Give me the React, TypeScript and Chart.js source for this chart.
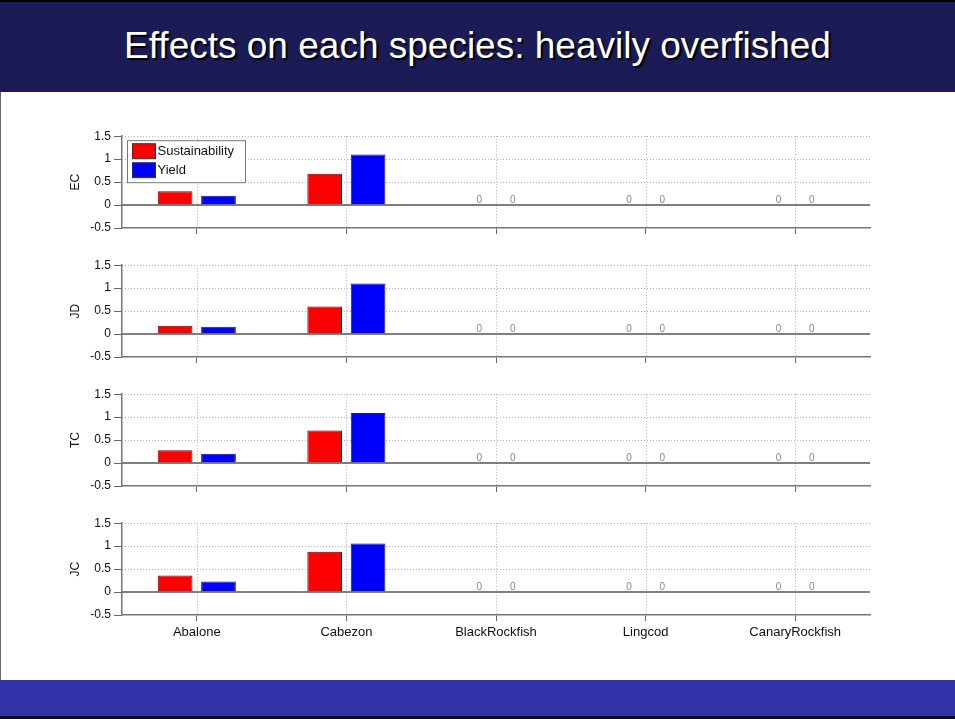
import React, { useEffect, useRef } from "react";
import { Chart, registerables } from "chart.js";

Chart.register(...registerables);

// ---------- data ----------
const TITLE = "Effects on each species: heavily overfished";
const categories = ["Abalone", "Cabezon", "BlackRockfish", "Lingcod", "CanaryRockfish"];
const seriesNames = ["Sustainability", "Yield"];
const panelLabels = ["EC", "JD", "TC", "JC"];
const ecSustainability = [0.3, 0.68, 0, 0, 0];
const ecYield = [0.2, 1.1, 0, 0, 0];
const jdSustainability = [0.18, 0.6, 0, 0, 0];
const jdYield = [0.16, 1.1, 0, 0, 0];
const tcSustainability = [0.28, 0.71, 0, 0, 0];
const tcYield = [0.2, 1.09, 0, 0, 0];
const jcSustainability = [0.36, 0.88, 0, 0, 0];
const jcYield = [0.23, 1.06, 0, 0, 0];
const yTickValues = [-0.5, 0, 0.5, 1, 1.5];

const seriesColors = ["#ff0000", "#0000ff"];
const FONT = "Arial, 'Liberation Sans', Helvetica, sans-serif";

const gridPlugin = {
  id: "matlabGrid",
  beforeDatasetsDraw(chart: any) {
    const { ctx, chartArea, scales } = chart;
    const { left, right, top, bottom } = chartArea;
    const x = scales.x;
    const y = scales.y;
    ctx.save();
    ctx.strokeStyle = "#b0b0b0";
    ctx.lineWidth = 1;
    ctx.setLineDash([1, 2]);
    y.ticks.forEach((t: any) => {
      if (t.value <= 0) return;
      const py = Math.round(y.getPixelForValue(t.value)) + 0.5;
      ctx.beginPath();
      ctx.moveTo(left, py);
      ctx.lineTo(right, py);
      ctx.stroke();
    });
    x.ticks.forEach((_t: any, i: number) => {
      const px = Math.round(x.getPixelForTick(i)) + 0.5;
      ctx.beginPath();
      ctx.moveTo(px, top);
      ctx.lineTo(px, bottom);
      ctx.stroke();
    });
    ctx.restore();
  },
  afterDatasetsDraw(chart: any) {
    const { ctx, chartArea, scales } = chart;
    const y = scales.y;
    const py = y.getPixelForValue(0);
    ctx.save();
    ctx.strokeStyle = "#555";
    ctx.lineWidth = 1.5;
    ctx.beginPath();
    ctx.moveTo(chartArea.left, py);
    ctx.lineTo(chartArea.right, py);
    ctx.stroke();
    // zero value labels
    ctx.fillStyle = "#888";
    ctx.font = `10px ${FONT}`;
    ctx.textAlign = "center";
    ctx.textBaseline = "alphabetic";
    chart.data.datasets.forEach((ds: any, di: number) => {
      const meta = chart.getDatasetMeta(di);
      meta.data.forEach((el: any, i: number) => {
        if (ds.data[i] === 0) {
          const dx = di === 0 ? 5 : -5;
          ctx.fillText("0", el.x + dx, py - 2);
        }
      });
    });
    ctx.restore();
  },
};

const legendPlugin = {
  id: "matlabLegend",
  afterDraw(chart: any, _args: any, opts: any) {
    if (!opts || !opts.show) return;
    const { ctx, chartArea } = chart;
    const bx = chartArea.left + 5.5;
    const by = chartArea.top + 4.5;
    const bw = 118;
    const bh = 42;
    ctx.save();
    ctx.fillStyle = "#fff";
    ctx.fillRect(bx, by, bw, bh);
    ctx.strokeStyle = "#777";
    ctx.lineWidth = 1;
    ctx.strokeRect(bx, by, bw, bh);
    ctx.font = `13px ${FONT}`;
    ctx.textAlign = "left";
    ctx.textBaseline = "middle";
    chart.data.datasets.forEach((ds: any, i: number) => {
      const sy = by + 3 + i * 19;
      ctx.fillStyle = ds.backgroundColor;
      ctx.fillRect(bx + 5, sy, 23, 15);
      ctx.strokeStyle = "#333";
      ctx.strokeRect(bx + 5, sy, 23, 15);
      ctx.fillStyle = "#111";
      ctx.fillText(ds.label, bx + 30, sy + 8);
    });
    ctx.restore();
  },
};

type PanelProps = {
  label: string;
  sustain: number[];
  yld: number[];
  top: number;
  height: number;
  xScaleHeight: number;
  showLegend: boolean;
  showXLabels: boolean;
};

function Panel({ label, sustain, yld, top, height, xScaleHeight, showLegend, showXLabels }: PanelProps) {
  const ref = useRef<HTMLCanvasElement | null>(null);
  useEffect(() => {
    if (!ref.current) return;
    const chart = new Chart(ref.current, {
      type: "bar",
      data: {
        labels: categories,
        datasets: [
          {
            label: seriesNames[0],
            data: sustain,
            backgroundColor: seriesColors[0],
            borderColor: "#222",
            borderWidth: (c: any) => (c.raw === 0 ? 0 : 1),
          },
          {
            label: seriesNames[1],
            data: yld,
            backgroundColor: seriesColors[1],
            borderColor: "#222",
            borderWidth: (c: any) => (c.raw === 0 ? 0 : 1),
          },
        ],
      },
      options: {
        animation: false,
        responsive: false,
        maintainAspectRatio: false,
        events: [],
        layout: { padding: { top: 10, right: 20, left: 0, bottom: 0 } },
        datasets: { bar: { categoryPercentage: 0.58, barPercentage: 0.8 } },
        plugins: {
          legend: { display: false },
          tooltip: { enabled: false },
          title: { display: false },
          matlabLegend: { show: showLegend },
        } as any,
        scales: {
          x: {
            type: "category",
            offset: true,
            grid: {
              offset: false,
              drawOnChartArea: false,
              drawTicks: true,
              tickLength: 6,
              tickColor: "#666",
              color: "#666",
            },
            border: { display: true, color: "#777", width: 1.5 },
            ticks: {
              display: showXLabels,
              autoSkip: false,
              maxRotation: 0,
              padding: 4,
              color: "#111",
              font: { family: FONT, size: 13 },
            },
            afterFit: (s: any) => {
              s.height = xScaleHeight;
            },
          },
          y: {
            min: yTickValues[0],
            max: yTickValues[yTickValues.length - 1],
            afterBuildTicks: (s: any) => {
              s.ticks = yTickValues.map((v) => ({ value: v }));
            },
            grid: {
              drawOnChartArea: false,
              drawTicks: true,
              tickLength: 8,
              tickColor: "#666",
              color: "#666",
            },
            border: { display: true, color: "#777", width: 1.5 },
            ticks: {
              padding: 3,
              color: "#111",
              font: { family: FONT, size: 12 },
              callback: (v: any) => String(v),
            },
            title: {
              display: true,
              text: label,
              color: "#111",
              font: { family: FONT, size: 12 },
              padding: { top: 18, bottom: 0 },
            },
            afterFit: (s: any) => {
              s.width = 72;
            },
          },
        },
      } as any,
      plugins: [gridPlugin, legendPlugin],
    });
    return () => chart.destroy();
  }, [label, sustain, yld, top, height, xScaleHeight, showLegend, showXLabels]);

  return (
    <canvas
      ref={ref}
      width={840}
      height={height}
      style={{ position: "absolute", left: 50, top, width: 840, height }}
    />
  );
}

export default function App() {
  const panels = [
    { label: panelLabels[0], s: ecSustainability, y: ecYield },
    { label: panelLabels[1], s: jdSustainability, y: jdYield },
    { label: panelLabels[2], s: tcSustainability, y: tcYield },
    { label: panelLabels[3], s: jcSustainability, y: jcYield },
  ];
  return (
    <div
      style={{
        position: "absolute",
        left: 0,
        top: 0,
        width: 955,
        height: 719,
        background: "#fff",
        overflow: "hidden",
        fontFamily: FONT,
      }}
    >
      <div
        style={{
          position: "absolute",
          left: 0,
          top: 0,
          width: 955,
          height: 92,
          background: "#1b1b55",
          borderTop: "2px solid #000",
          boxSizing: "border-box",
        }}
      />
      <div
        style={{
          position: "absolute",
          left: 0,
          top: 27,
          width: 955,
          height: 37,
          lineHeight: "37px",
          fontSize: 37,
          color: "#fff",
          textAlign: "center",
          textShadow: "2px 2px 1px #000",
          whiteSpace: "nowrap",
        }}
      >
        {TITLE}
      </div>
      <div
        style={{
          position: "absolute",
          left: 0,
          top: 92,
          width: 1,
          height: 588,
          background: "#666",
        }}
      />
      {panels.map((p, k) => (
        <Panel
          key={p.label}
          label={p.label}
          sustain={p.s}
          yld={p.y}
          top={126 + 129 * k}
          height={k === 3 ? 150 : 129}
          xScaleHeight={k === 3 ? 48 : 27}
          showLegend={k === 0}
          showXLabels={k === 3}
        />
      ))}
      <div
        style={{
          position: "absolute",
          left: 0,
          top: 680,
          width: 955,
          height: 39,
          background: "#3333aa",
          borderBottom: "3px solid #0a0a20",
          boxSizing: "border-box",
        }}
      />
    </div>
  );
}
